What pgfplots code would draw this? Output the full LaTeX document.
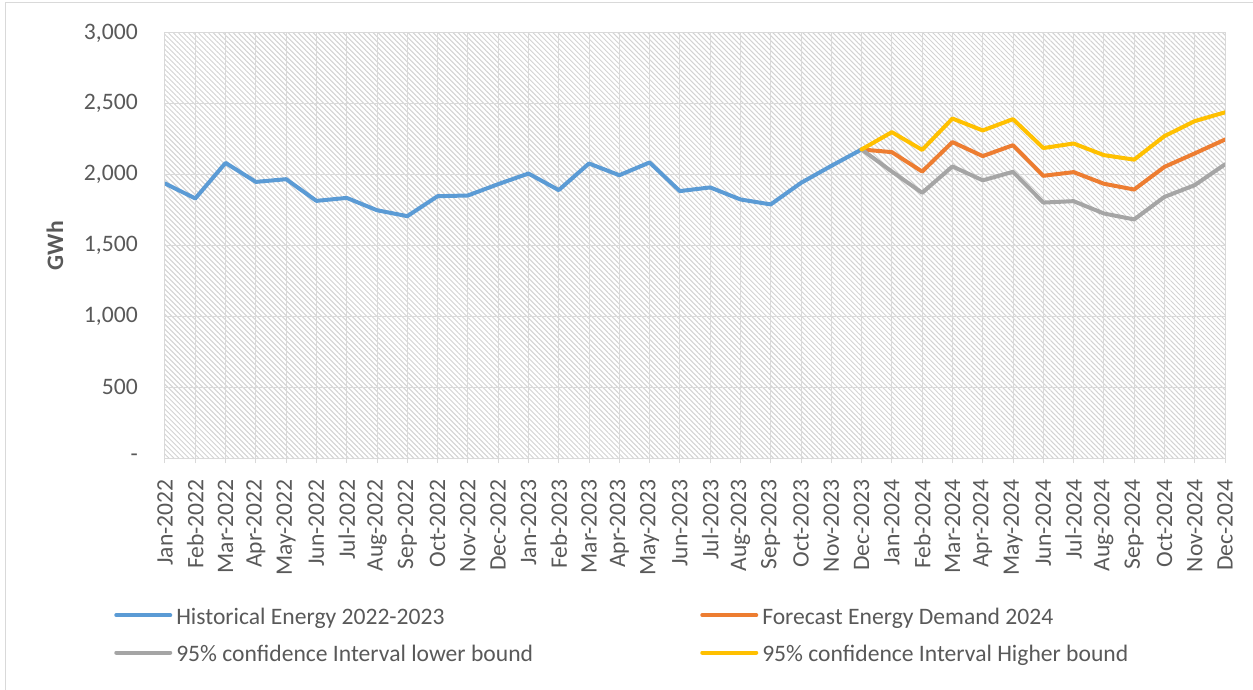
\documentclass[border=0pt]{standalone}
\usepackage{fontspec}
\setmainfont{Carlito}
\usepackage{pgfplots}
\pgfplotsset{compat=1.18}
\usetikzlibrary{patterns.meta}
\definecolor{cBlue}{HTML}{5B9BD5}
\definecolor{cOrange}{HTML}{ED7D31}
\definecolor{cGrey}{HTML}{A5A5A5}
\definecolor{cYellow}{HTML}{FFC000}
\definecolor{gridc}{HTML}{D9D9D9}
\definecolor{txt}{HTML}{595959}
\definecolor{hatch}{HTML}{D2D2D2}
\begin{document}
\begin{tikzpicture}
\useasboundingbox (-123.75pt,-173.25pt) rectangle (816pt,343.5pt);
\draw[color=gridc, line width=0.75pt] (-119.25pt,-190pt) rectangle (830pt,341.25pt);
\begin{axis}[
  at={(0pt,0pt)}, anchor=south west,
  scale only axis, width=795pt, height=318.75pt,
  xmin=0, xmax=35, ymin=0, ymax=3000,
  xtick={0,...,35},
  xticklabels={Jan-2022,Feb-2022,Mar-2022,Apr-2022,May-2022,Jun-2022,Jul-2022,Aug-2022,Sep-2022,Oct-2022,Nov-2022,Dec-2022,
               Jan-2023,Feb-2023,Mar-2023,Apr-2023,May-2023,Jun-2023,Jul-2023,Aug-2023,Sep-2023,Oct-2023,Nov-2023,Dec-2023,
               Jan-2024,Feb-2024,Mar-2024,Apr-2024,May-2024,Jun-2024,Jul-2024,Aug-2024,Sep-2024,Oct-2024,Nov-2024,Dec-2024},
  ytick={0,500,1000,1500,2000,2500,3000},
  yticklabels={-,500,{1,000},{1,500},{2,000},{2,500},{3,000}},
  grid=major, major grid style={draw=gridc, line width=0.75pt},
  axis line style={draw=gridc, line width=0.75pt},
  axis background/.style={pattern={Lines[angle=-45,distance=2.65pt,line width=0.75pt]}, pattern color=hatch},
  xtick pos=left, tick align=outside, major tick length=3.75pt,
  xtick style={draw=gridc, line width=0.75pt},
  ytick style={draw=none},
  ticklabel style={font=\fontsize{17.7}{21.2}\selectfont, text=txt},
  xticklabel style={yshift=-12pt, rotate=90, anchor=east, inner sep=0pt},
  yticklabel style={anchor=east, inner sep=0pt, xshift=-16.5pt},
  ylabel={GWh},
  every axis y label/.style={at={(axis description cs:-0.1038,0.5)}, rotate=90, anchor=center,
     font=\bfseries\fontsize{17.7}{21.2}\selectfont, text=txt},
  legend columns=2,
  legend style={at={(axis description cs:0,0)}, anchor=north west, xshift=-38.25pt, yshift=-109.5pt,
     draw=none, fill=none, inner sep=0pt, row sep=11.75pt, column sep=0pt,
     font=\fontsize{17.7}{21.2}\selectfont, text=txt, nodes={inner sep=0pt}, cells={anchor=west}},
  legend image code/.code={\draw[#1] (0pt,0pt) -- (40.5pt,0pt);},
  every axis plot/.append style={line width=3pt, line join=round, line cap=round},
]
\addplot[color=cBlue] coordinates {
(0,1938) (1,1832) (2,2083) (3,1949) (4,1968) (5,1815) (6,1836) (7,1749) (8,1707) (9,1848) (10,1853) (11,1933)
(12,2008) (13,1891) (14,2079) (15,1996) (16,2086) (17,1884) (18,1910) (19,1825) (20,1790) (21,1942) (22,2062) (23,2178)};
\addlegendentry{\strut\hspace*{3pt}\makebox[393pt][l]{Historical Energy 2022-2023}}
\addplot[color=cOrange] coordinates {
(23,2178) (24,2159) (25,2022) (26,2230) (27,2131) (28,2208) (29,1992) (30,2018) (31,1936) (32,1895) (33,2055) (34,2150) (35,2248)};
\addlegendentry{\strut\hspace*{3pt}Forecast Energy Demand 2024}
\addplot[color=cGrey] coordinates {
(23,2178) (24,2022) (25,1872) (26,2058) (27,1960) (28,2020) (29,1803) (30,1813) (31,1726) (32,1684) (33,1843) (34,1926) (35,2073)};
\addlegendentry{\strut\hspace*{3pt}\makebox[393pt][l]{95\% confidence Interval lower bound}}
\addplot[color=cYellow] coordinates {
(23,2178) (24,2300) (25,2175) (26,2396) (27,2312) (28,2392) (29,2188) (30,2220) (31,2138) (32,2106) (33,2272) (34,2378) (35,2440)};
\addlegendentry{\strut\hspace*{3pt}95\% confidence Interval Higher bound}
\end{axis}
\end{tikzpicture}
\end{document}
